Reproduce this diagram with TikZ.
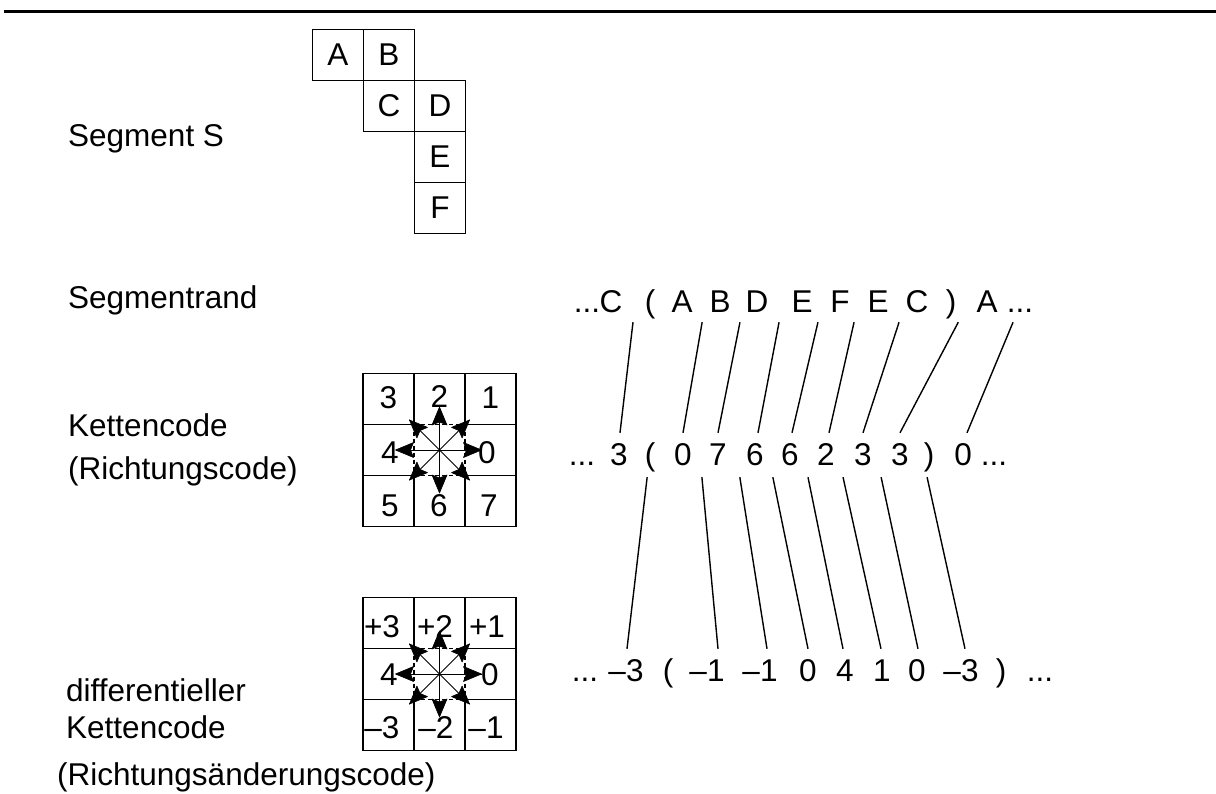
\documentclass[tikz,border=0pt]{standalone}
\usepackage{fontspec}
\setmainfont{Liberation Sans}
\usetikzlibrary{calc}
\newcommand\dgmfont{\fontsize{31.5}{38}\selectfont}

\begin{document}
\begin{tikzpicture}[x=1pt,y=-1pt,
  every node/.style={inner sep=0pt},
  lbl/.style={anchor=base west, font=\dgmfont},
  tok/.style={anchor=base, text height=22.5pt, text depth=0pt, font=\dgmfont},
  dig/.style={text height=22pt, text depth=0pt, font=\dgmfont},
  segcell/.style={draw, line width=1.4pt, minimum size=51pt, text height=22pt, text depth=0pt, font=\dgmfont},
  gridline/.style={line width=1.4pt},
  dashline/.style={line width=1.1pt, dash pattern=on 4pt off 3pt},
  dirshaft/.style={line width=1pt},
  dirhead/.style={fill=black, draw=black, line width=0.6pt, line join=round},
  conn/.style={line width=1.4pt}
]
\useasboundingbox (0,0) rectangle (1216,794);

% heading rule
\draw[line width=3pt] (4,12) -- (1216,12);

% row labels
\node[lbl] (segS) at (68,147) {Segment S};
\node[lbl] (segR) at (68,309) {Segmentrand};
\node[lbl] (kc1)  at (68,436) {Kettencode};
\node[lbl] (rc1)  at (68,479) {(Richtungscode)};
\node[lbl] (dk1)  at (66,701) {differentieller};
\node[lbl] (dk2)  at (66,738) {Kettencode};
\node[lbl] (rac)  at (57,785) {(Richtungsänderungscode)};

% the segment S
\node[segcell] (A) at (338,55)  {A};
\node[segcell] (B) at (389,55)  {B};
\node[segcell] (C) at (389,106) {C};
\node[segcell] (D) at (440,106) {D};
\node[segcell] (E) at (440,157) {E};
\node[segcell] (F) at (440,208) {F};

% 3x3 direction grids with a dashed centre cell
\foreach \cy in {450,674} {
  \begin{scope}[shift={(439.5,\cy)}]
    \draw[gridline] (-76.5,-76.5) rectangle (76.5,76.5);
    \foreach \v in {-25.5,25.5} {
      \draw[gridline] (\v,-76.5) -- (\v,-25.5) (\v,25.5) -- (\v,76.5);
      \draw[gridline] (-76.5,\v) -- (-25.5,\v) (25.5,\v) -- (76.5,\v);
      \draw[dashline] (\v,-25.5) -- (\v,25.5) (-25.5,\v) -- (25.5,\v);
    }
  \end{scope}
}

% direction arrows: shaft from the centre, filled head at the tip
\coordinate (k0) at (439.5,450);
\coordinate (d0) at (439.5,674);
\foreach \p/\L in {0/42, 45/42.5, 90/43, 135/42.5, 180/44, 225/42.5, 270/43, 315/42.5} {
  \foreach \c in {k0,d0} {
    \draw[dirshaft] (\c) -- ++({\L*cos(\p)},{-\L*sin(\p)}) coordinate (tip);
    \path[dirhead, shift={(tip)}, rotate=\p]
      (0,0) -- (-18,-7.5) -- (-15,0) -- (-18,7.5) -- cycle;
  }
}

% chain code digits
\node[dig] (k3) at (388.5,397) {3};
\node[dig] (k2) at (439.5,396) {2};
\node[dig] (k1) at (490.5,397) {1};
\node[dig] (k4) at (390,452)   {4};
\node[dig] (kz) at (487,452)   {0};
\node[dig] (k5) at (390,505)   {5};
\node[dig] (k6) at (439,505)   {6};
\node[dig] (k7) at (489,505)   {7};

% differential chain code values
\node[dig] (dp3) at (382,626) {+3};
\node[dig] (dp2) at (435,626) {+2};
\node[dig] (dp1) at (487,626) {+1};
\node[dig] (d4)  at (389,674) {4};
\node[dig] (dz)  at (490,674) {0};
\node[dig] (dm3) at (382,727) {--3};
\node[dig] (dm2) at (436,727) {--2};
\node[dig] (dm1) at (486,727) {--1};

% boundary sequence
\node[tok] (p0)  at (587,313)  {...};
\node[tok] (pC)  at (611,313)  {C};
\node[tok] (pL)  at (650,313)  {(};
\node[tok] (pA)  at (682,313)  {A};
\node[tok] (pB)  at (720,313)  {B};
\node[tok] (pD)  at (757,313)  {D};
\node[tok] (pE)  at (802,313)  {E};
\node[tok] (pF)  at (840,313)  {F};
\node[tok] (pE2) at (878,313)  {E};
\node[tok] (pC2) at (917,313)  {C};
\node[tok] (pR)  at (951,313)  {)};
\node[tok] (pA2) at (987,313)  {A};
\node[tok] (p9)  at (1020,313) {...};

% chain code sequence
\node[tok] (q0)  at (582,465) {...};
\node[tok] (q1)  at (619,465) {3};
\node[tok] (qL)  at (650,465) {(};
\node[tok] (q2)  at (683,465) {0};
\node[tok] (q3)  at (718,465) {7};
\node[tok] (q4)  at (755,465) {6};
\node[tok] (q5)  at (790,465) {6};
\node[tok] (q6)  at (826,465) {2};
\node[tok] (q7)  at (863,465) {3};
\node[tok] (q8)  at (900,465) {3};
\node[tok] (qR)  at (929,465) {)};
\node[tok] (q9)  at (963,465) {0};
\node[tok] (q10) at (994,465) {...};

% differential chain code sequence
\node[tok] (s0) at (585,681)  {...};
\node[tok] (s1) at (626,681)  {--3};
\node[tok] (sL) at (668,681)  {(};
\node[tok] (s2) at (707,681)  {--1};
\node[tok] (s3) at (760,681)  {--1};
\node[tok] (s4) at (808,681)  {0};
\node[tok] (s5) at (845,681)  {4};
\node[tok] (s6) at (882,681)  {1};
\node[tok] (s7) at (917,681)  {0};
\node[tok] (s8) at (961,681)  {--3};
\node[tok] (sR) at (1001,681) {)};
\node[tok] (s9) at (1040,681) {...};

% boundary step -> direction code
\foreach \a/\b/\fr/\t/\dx in {pC/pA/0.31/q1/1, pA/pB/0.53/q2/0, pB/pD/0.54/q3/0,
    pD/pE/0.49/q4/3, pE/pF/0.42/q5/2, pF/pE2/0.37/q6/3, pE2/pC2/0.54/q7/0,
    pC2/pA2/0.59/q8/0, pA2/p9/0.79/q9/4}
  \draw[conn] ($(\a.south)!\fr!(\b.south)+(0,9)$) -- ($(\t.north)+(\dx,-9.5)$);

% consecutive codes -> direction change
\foreach \a/\b/\fr/\t/\dx in {q1/q2/0.44/s1/1, q2/q3/0.54/s2/11, q3/q4/0.59/s3/7,
    q4/q5/0.51/s4/0, q5/q6/0.5/s5/-2, q6/q7/0.46/s6/-1, q7/q8/0.49/s7/1,
    q8/q9/0.43/s8/4}
  \draw[conn] ($(\a.south)!\fr!(\b.south)+(0,12)$) -- ($(\t.north)+(\dx,-9.5)$);
\end{tikzpicture}
\end{document}
